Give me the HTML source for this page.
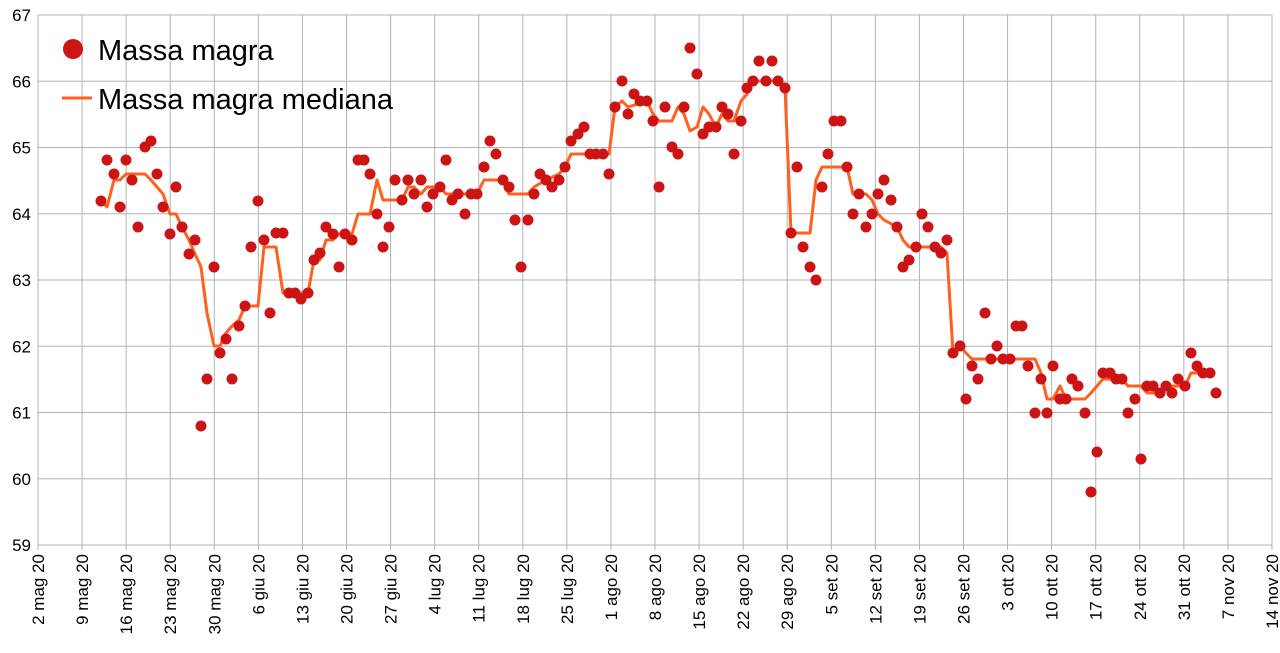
<!DOCTYPE html>
<html><head><meta charset="utf-8"><style>body{margin:0;background:#fff}svg{display:block}text{font-family:"Liberation Sans",sans-serif;fill:#000}</style></head><body>
<svg width="1280" height="653" xmlns="http://www.w3.org/2000/svg">
<g id="grid" stroke="#b3b3b3" stroke-width="1"></g>
<g id="lab" font-size="17"></g>
<polyline id="med" fill="none" stroke="#ff6020" stroke-width="3" stroke-linejoin="round"/>
<g id="dots" fill="#cc1414"></g>
<circle cx="73" cy="49" r="10" fill="#cc1414"/>
<text x="98" y="60" font-size="29">Massa magra</text>
<line x1="62" y1="98" x2="92" y2="98" stroke="#ff6020" stroke-width="3"/>
<text x="98" y="109" font-size="29">Massa magra mediana</text>
<script>
const ns="http://www.w3.org/2000/svg";
const g=document.getElementById('grid'),lab=document.getElementById('lab');
function el(t,a,p){const e=document.createElementNS(ns,t);for(const k in a)e.setAttribute(k,a[k]);p.appendChild(e);return e;}
for(let i=0;i<=8;i++){const y=15+i*66.25;el('line',{x1:38,x2:1272,y1:y,y2:y},g);const t=el('text',{x:31,y:y+6,'text-anchor':'end'},lab);t.textContent=67-i;}
const L=["2 mag 20","9 mag 20","16 mag 20","23 mag 20","30 mag 20","6 giu 20","13 giu 20","20 giu 20","27 giu 20","4 lug 20","11 lug 20","18 lug 20","25 lug 20","1 ago 20","8 ago 20","15 ago 20","22 ago 20","29 ago 20","5 set 20","12 set 20","19 set 20","26 set 20","3 ott 20","10 ott 20","17 ott 20","24 ott 20","31 ott 20","7 nov 20","14 nov 20"];
L.forEach((s,i)=>{const x=38+i*1234/28;el('line',{x1:x,x2:x,y1:15,y2:550},g);const t=el('text',{x:0,y:0,'text-anchor':'end',transform:`translate(${x+6},554) rotate(-90)`},lab);t.textContent=s;});
const D=[[101,201],[107,160],[114,174],[120,207],[126,160],[132,180],[138,227],[145,147],[151,141],[157,174],[163,207],[170,234],[176,187],[182,227],[189,254],[195,240],[201,426],[207,379],[214,267],[220,353],[226,339],[232,379],[239,326],[245,306],[251,247],[258,201],[264,240],[270,313],[276,233],[283,233],[289,293],[295,293],[301,299],[308,293],[314,260],[320,253],[326,227],[333,234],[339,267],[345,234],[352,240],[358,160],[364,160],[370,174],[377,214],[383,247],[389,227],[395,180],[402,200],[408,180],[414,194],[421,180],[427,207],[433,194],[440,187],[446,160],[452,200],[458,194],[465,214],[471,194],[477,194],[484,167],[490,141],[496,154],[503,180],[509,187],[515,220],[521,267],[528,220],[534,194],[540,174],[546,180],[552,187],[559,180],[565,167],[571,141],[578,134],[584,127],[590,154],[596,154],[603,154],[609,174],[615,107],[622,81],[628,114],[634,94],[640,101],[647,101],[653,121],[659,187],[665,107],[672,147],[678,154],[684,107],[690,48],[697,74],[703,134],[709,127],[716,127],[722,107],[728,114],[734,154],[741,121],[747,88],[753,81],[759,61],[766,81],[772,61],[778,81],[785,88],[791,233],[797,167],[803,247],[810,267],[816,280],[822,187],[828,154],[834,121],[841,121],[847,167],[853,214],[859,194],[866,227],[872,214],[878,194],[884,180],[891,200],[897,227],[903,267],[909,260],[916,247],[922,214],[928,227],[935,247],[941,253],[947,240],[953,353],[960,346],[966,399],[972,366],[978,379],[985,313],[991,359],[997,346],[1003,359],[1010,359],[1016,326],[1022,326],[1028,366],[1035,413],[1041,379],[1047,413],[1053,366],[1060,399],[1066,399],[1072,379],[1078,386],[1085,413],[1091,492],[1097,452],[1103,373],[1110,373],[1116,379],[1122,379],[1128,413],[1135,399],[1141,459],[1147,386],[1153,386],[1160,393],[1166,386],[1172,393],[1178,379],[1185,386],[1191,353],[1197,366],[1203,373],[1210,373],[1216,393]];
const dg=document.getElementById('dots');D.forEach(p=>el('circle',{cx:p[0],cy:p[1],r:5.5},dg));
const M=[[101,201],[107,207],[114,180],[120,180],[126,174],[145,174],[151,180],[157,187],[163,194],[170,214],[176,214],[182,227],[189,240],[195,254],[201,267],[207,313],[214,346],[220,346],[226,333],[232,326],[239,320],[245,306],[258,306],[264,247],[276,247],[283,293],[308,293],[314,260],[320,260],[326,240],[333,240],[339,234],[352,234],[358,214],[370,214],[377,180],[383,200],[402,200],[408,187],[414,187],[421,194],[427,187],[440,187],[446,194],[477,194],[484,180],[503,180],[509,194],[528,194],[534,187],[546,180],[559,174],[565,167],[571,154],[609,154],[615,107],[622,101],[628,107],[647,101],[653,114],[659,121],[672,121],[678,107],[684,114],[690,131],[697,127],[703,107],[709,114],[716,127],[722,114],[728,121],[734,121],[741,101],[747,94],[753,81],[778,81],[785,88],[791,233],[810,233],[816,180],[822,167],[847,167],[853,194],[866,194],[872,200],[878,214],[884,220],[897,227],[903,240],[909,247],[941,247],[947,253],[953,353],[960,346],[966,353],[972,359],[1035,359],[1041,373],[1047,399],[1053,399],[1060,386],[1066,399],[1085,399],[1091,393],[1097,386],[1103,379],[1122,379],[1128,386],[1141,386],[1147,393],[1160,393],[1166,386],[1185,386],[1191,373],[1210,373]];
document.getElementById('med').setAttribute('points',M.map(p=>p.join(',')).join(' '));
</script>
</svg>
</body></html>
